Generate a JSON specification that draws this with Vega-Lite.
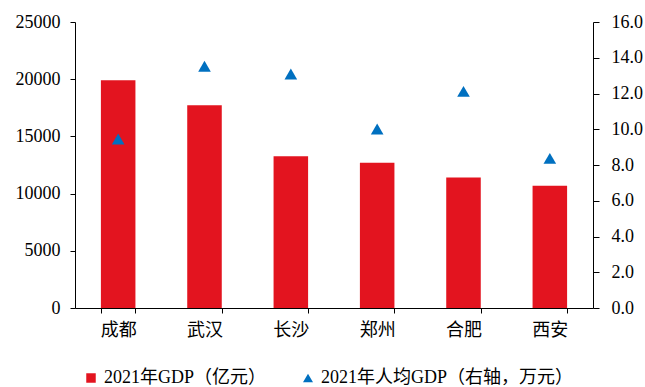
{
  "$schema": "https://vega.github.io/schema/vega-lite/v6.json",
  "width": 518,
  "height": 286,
  "autosize": {"type": "none"},
  "padding": {"left": 75, "top": 22, "right": 52, "bottom": 79},
  "config": {
    "view": {"stroke": null},
    "font": "'Liberation Serif', 'Noto Sans CJK SC', serif",
    "axis": {
      "grid": false,
      "domainColor": "#000000",
      "domainWidth": 1,
      "tickColor": "#000000",
      "tickWidth": 1,
      "tickSize": 5,
      "labelColor": "#000000",
      "labelFont": "'Liberation Serif', 'Noto Sans CJK SC', serif",
      "labelFontSize": 18,
      "title": null
    },
    "legend": {
      "padding": 0,
      "labelFont": "'Liberation Serif', 'Noto Sans CJK SC', serif",
      "labelFontSize": 18,
      "labelColor": "#000000",
      "labelOffset": 4,
      "labelLimit": 400,
      "title": null
    }
  },
  "data": {
    "values": [
      {"city": "成都", "gdp": 19917, "pc": 9.46},
      {"city": "武汉", "gdp": 17717, "pc": 13.53},
      {"city": "长沙", "gdp": 13271, "pc": 13.09},
      {"city": "郑州", "gdp": 12691, "pc": 10.01},
      {"city": "合肥", "gdp": 11413, "pc": 12.12},
      {"city": "西安", "gdp": 10688, "pc": 8.37}
    ]
  },
  "layer": [
    {
      "mark": {"type": "bar"},
      "encoding": {
        "x": {
          "field": "city",
          "type": "nominal",
          "sort": null,
          "scale": {"paddingInner": 0.6, "paddingOuter": 0.3},
          "axis": {"labelAngle": 0, "tickBand": "extent", "labelPadding": 8}
        },
        "y": {
          "field": "gdp",
          "type": "quantitative",
          "scale": {"domain": [0, 25000]},
          "axis": {"values": [0, 5000, 10000, 15000, 20000, 25000], "format": "d", "labelPadding": 10}
        },
        "color": {
          "datum": "2021年GDP（亿元）",
          "scale": {"range": ["#E3141F"]},
          "legend": {
            "orient": "none",
            "legendX": 7,
            "legendY": 347,
            "symbolType": "square",
            "symbolSize": 90,
            "symbolStrokeWidth": 0
          }
        }
      }
    },
    {
      "mark": {"type": "point", "shape": "triangle-up", "filled": true, "size": 160, "color": "#0070C0", "opacity": 1},
      "encoding": {
        "x": {"field": "city", "type": "nominal", "sort": null},
        "y": {
          "field": "pc",
          "type": "quantitative",
          "scale": {"domain": [0, 16]},
          "axis": {"orient": "right", "values": [0, 2, 4, 6, 8, 10, 12, 14, 16], "format": ".1f", "tickSize": 6, "labelPadding": 12}
        },
        "shape": {
          "datum": "2021年人均GDP（右轴，万元）",
          "scale": {"range": ["triangle-up"]},
          "legend": {
            "orient": "none",
            "legendX": 224,
            "legendY": 347,
            "symbolSize": 100,
            "symbolFillColor": "#0070C0",
            "symbolStrokeWidth": 0
          }
        }
      }
    }
  ],
  "resolve": {"scale": {"y": "independent"}}
}
